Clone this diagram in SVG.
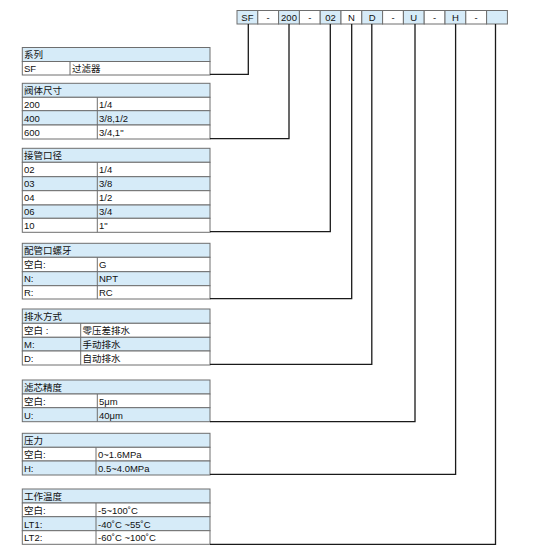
<svg xmlns="http://www.w3.org/2000/svg" width="540" height="560" viewBox="0 0 540 560">
<style>
text{font-family:"Liberation Sans","Noto Sans CJK SC",Arial,sans-serif;font-size:9.5px;fill:#111}
.cell{stroke:#6e6e6e;stroke-width:1}
.b{fill:#d6ebf8}
.w{fill:#ffffff}
.key text{text-anchor:middle}
.conn{fill:none;stroke:#1a1a1a;stroke-width:1.3}
</style>
<rect width="540" height="560" fill="#fff"/>
<g id="code" class="key">
<rect class="cell b" x="237" y="10.5" width="20.8" height="13.5"/><text x="247.4" y="21">SF</text>
<rect class="cell w" x="257.8" y="10.5" width="20.8" height="13.5"/><text x="268.2" y="21">-</text>
<rect class="cell b" x="278.6" y="10.5" width="20.8" height="13.5"/><text x="289" y="21">200</text>
<rect class="cell w" x="299.4" y="10.5" width="20.8" height="13.5"/><text x="309.8" y="21">-</text>
<rect class="cell b" x="320.2" y="10.5" width="20.8" height="13.5"/><text x="330.6" y="21">02</text>
<rect class="cell w" x="341" y="10.5" width="20.8" height="13.5"/><text x="351.4" y="21">N</text>
<rect class="cell b" x="361.8" y="10.5" width="20.8" height="13.5"/><text x="372.2" y="21">D</text>
<rect class="cell w" x="382.6" y="10.5" width="20.8" height="13.5"/><text x="393" y="21">-</text>
<rect class="cell b" x="403.4" y="10.5" width="20.8" height="13.5"/><text x="413.8" y="21">U</text>
<rect class="cell w" x="424.2" y="10.5" width="20.8" height="13.5"/><text x="434.6" y="21">-</text>
<rect class="cell b" x="445" y="10.5" width="20.8" height="13.5"/><text x="455.4" y="21">H</text>
<rect class="cell w" x="465.8" y="10.5" width="20.8" height="13.5"/><text x="476.2" y="21">-</text>
<rect class="cell b" x="486.6" y="10.5" width="20.8" height="13.5"/>
</g>
<g id="t1">
<rect class="cell b" x="22.3" y="47.5" width="187.7" height="14"/><text x="24" y="58">系列</text>
<rect class="cell w" x="22.3" y="61.5" width="187.7" height="13.5"/>
<line class="cell" x1="70" y1="61.5" x2="70" y2="75"/>
<text x="24" y="71.5">SF</text><text x="72" y="71.5">过滤器</text>
</g>
<g id="t2">
<rect class="cell b" x="22.3" y="83.3" width="187.7" height="14"/><text x="24" y="94">阀体尺寸</text>
<rect class="cell w" x="22.3" y="97.3" width="187.7" height="13.4"/>
<rect class="cell b" x="22.3" y="110.7" width="187.7" height="14.3"/>
<rect class="cell w" x="22.3" y="125" width="187.7" height="14"/>
<line class="cell" x1="97.3" y1="97.3" x2="97.3" y2="139"/>
<text x="24" y="107.5">200</text><text x="99" y="107.5">1/4</text>
<text x="24" y="121.5">400</text><text x="99" y="121.5">3/8,1/2</text>
<text x="24" y="135.5">600</text><text x="99" y="135.5">3/4,1"</text>
</g>
<g id="t3">
<rect class="cell b" x="22.3" y="148.3" width="187.7" height="14"/><text x="24" y="159">接管口径</text>
<rect class="cell w" x="22.3" y="162.3" width="187.7" height="14.4"/>
<rect class="cell b" x="22.3" y="176.7" width="187.7" height="14"/>
<rect class="cell w" x="22.3" y="190.7" width="187.7" height="14.3"/>
<rect class="cell b" x="22.3" y="205" width="187.7" height="13.3"/>
<rect class="cell w" x="22.3" y="218.3" width="187.7" height="14"/>
<line class="cell" x1="97.3" y1="162.3" x2="97.3" y2="232.3"/>
<text x="24" y="173">02</text><text x="99" y="173">1/4</text>
<text x="24" y="187">03</text><text x="99" y="187">3/8</text>
<text x="24" y="201">04</text><text x="99" y="201">1/2</text>
<text x="24" y="215">06</text><text x="99" y="215">3/4</text>
<text x="24" y="229">10</text><text x="99" y="229">1"</text>
</g>
<g id="t4">
<rect class="cell b" x="22.3" y="243.3" width="187.7" height="14"/><text x="24" y="254">配管口螺牙</text>
<rect class="cell w" x="22.3" y="257.3" width="187.7" height="14.4"/>
<rect class="cell b" x="22.3" y="271.7" width="187.7" height="14"/>
<rect class="cell w" x="22.3" y="285.7" width="187.7" height="13.3"/>
<line class="cell" x1="97.3" y1="257.3" x2="97.3" y2="299"/>
<text x="24" y="268">空白:</text><text x="99" y="268">G</text>
<text x="24" y="282">N:</text><text x="99" y="282">NPT</text>
<text x="24" y="296">R:</text><text x="99" y="296">RC</text>
</g>
<g id="t5">
<rect class="cell b" x="22.3" y="309" width="187.7" height="14.3"/><text x="24" y="320">排水方式</text>
<rect class="cell w" x="22.3" y="323.3" width="187.7" height="14"/>
<rect class="cell b" x="22.3" y="337.3" width="187.7" height="13.7"/>
<rect class="cell w" x="22.3" y="351" width="187.7" height="14"/>
<line class="cell" x1="80.7" y1="323.3" x2="80.7" y2="365"/>
<text x="24" y="334">空白 :</text><text x="82.5" y="334">零压差排水</text>
<text x="24" y="348">M:</text><text x="82.5" y="348">手动排水</text>
<text x="24" y="361.5">D:</text><text x="82.5" y="361.5">自动排水</text>
</g>
<g id="t6">
<rect class="cell b" x="22.3" y="380" width="187.7" height="14"/><text x="24" y="391">滤芯精度</text>
<rect class="cell w" x="22.3" y="394" width="187.7" height="13.7"/>
<rect class="cell b" x="22.3" y="407.7" width="187.7" height="14"/>
<line class="cell" x1="97.3" y1="394" x2="97.3" y2="421.7"/>
<text x="24" y="404.5">空白:</text><text x="99" y="404.5">5μm</text>
<text x="24" y="418.5">U:</text><text x="99" y="418.5">40μm</text>
</g>
<g id="t7">
<rect class="cell b" x="22.3" y="433.3" width="187.7" height="14"/><text x="24" y="444">压力</text>
<rect class="cell w" x="22.3" y="447.3" width="187.7" height="13.7"/>
<rect class="cell b" x="22.3" y="461" width="187.7" height="14"/>
<line class="cell" x1="96" y1="447.3" x2="96" y2="475"/>
<text x="24" y="458">空白:</text><text x="98" y="458">0~1.6MPa</text>
<text x="24" y="471.5">H:</text><text x="98" y="471.5">0.5~4.0MPa</text>
</g>
<g id="t8">
<rect class="cell b" x="22.3" y="489" width="187.7" height="14"/><text x="24" y="500">工作温度</text>
<rect class="cell w" x="22.3" y="503" width="187.7" height="13.7"/>
<rect class="cell b" x="22.3" y="516.7" width="187.7" height="14"/>
<rect class="cell w" x="22.3" y="530.7" width="187.7" height="13.6"/>
<line class="cell" x1="96" y1="503" x2="96" y2="544.3"/>
<text x="24" y="513.5">空白:</text><text x="98" y="513.5">-5~100˚C</text>
<text x="24" y="527.5">LT1:</text><text x="98" y="527.5">-40˚C ~55˚C</text>
<text x="24" y="541">LT2:</text><text x="98" y="541">-60˚C ~100˚C</text>
</g>
<g id="connectors" class="conn">
<polyline points="248.3,24 248.3,74.3 210,74.3"/>
<polyline points="289,24 289,138.7 210,138.7"/>
<polyline points="330.3,24 330.3,231.7 210,231.7"/>
<polyline points="351.7,24 351.7,298.7 210,298.7"/>
<polyline points="371.8,24 371.8,364.3 210,364.3"/>
<polyline points="415,24 415,421.7 210,421.7"/>
<polyline points="455.6,24 455.6,474.3 210,474.3"/>
<polyline points="495.5,24 495.5,544.3 210,544.3"/>
</g>
</svg>
